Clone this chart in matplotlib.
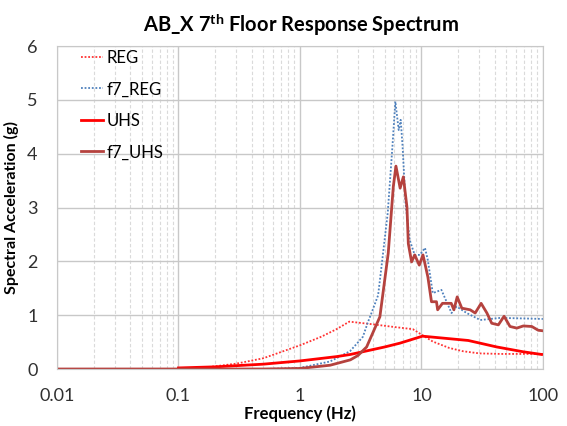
import numpy as np
import matplotlib.pyplot as plt
from matplotlib.ticker import LogLocator, NullFormatter, FixedLocator

plt.rcParams['font.family'] = ['Lato', 'DejaVu Sans']
plt.rcParams['mathtext.fontset'] = 'custom'
plt.rcParams['mathtext.rm'] = 'Lato'
plt.rcParams['mathtext.bf'] = 'Lato:bold'

# REG (espectro regulatorio)
reg_f = [0.01, 0.1, 0.15, 0.2, 0.3, 0.5, 1.0, 1.5, 2.0, 2.55, 4.0, 6.0, 8.5, 10.0, 12.4, 17.0, 22.0, 30.0, 45.0, 100.0]
reg_a = [0.0, 0.0, 0.02, 0.05, 0.1, 0.2, 0.44, 0.6, 0.74, 0.88, 0.83, 0.78, 0.74, 0.64, 0.51, 0.39, 0.33, 0.29, 0.28, 0.28]

# UHS
uhs_f = [0.1, 0.2, 0.5, 1.0, 2.0, 2.6, 5.0, 6.65, 10.2, 24.3, 41.6, 68.8, 97.5]
uhs_a = [0.02, 0.04, 0.09, 0.15, 0.23, 0.27, 0.41, 0.48, 0.61, 0.53, 0.41, 0.32, 0.27]

# f7_REG
f7reg_f = [0.01, 0.5, 1.0, 1.77, 2.58, 3.02, 3.3, 3.6, 3.88, 4.4, 4.69, 5.28, 5.77, 6.1, 6.5, 6.75, 7.0,
           7.4, 8.0, 8.8, 9.7, 10.7, 11.3, 12.4, 14.6, 17.7, 19.5, 23.6, 30.5, 44.7, 100.0]
f7reg_a = [0.0, 0.0, 0.02, 0.14, 0.33, 0.5, 0.6, 0.85, 1.04, 1.37, 1.9, 2.9, 4.13, 4.97, 4.44, 4.63, 4.13,
           3.08, 2.4, 2.12, 2.12, 2.25, 2.02, 1.41, 1.47, 1.04, 1.16, 1.04, 0.91, 0.95, 0.93]

# f7_UHS
f7uhs_f = [0.01, 0.5, 1.0, 1.77, 2.6, 3.0, 3.54, 4.55, 5.33, 5.87, 6.17, 6.68, 7.1, 7.6, 7.8, 8.3, 8.8,
           9.6, 10.3, 11.3, 12.1, 13.3, 13.6, 14.9, 17.6, 18.5, 19.7, 21.5, 25.2, 27.7, 31.0, 34.6,
           37.9, 43.0, 47.9, 53.6, 61.0, 69.0, 81.0, 91.5, 100.0]
f7uhs_a = [0.0, 0.0, 0.01, 0.07, 0.17, 0.25, 0.41, 0.97, 2.15, 3.39, 3.77, 3.36, 3.57, 3.01, 2.33, 1.99, 2.12,
           1.93, 2.12, 1.71, 1.25, 1.25, 1.1, 1.22, 1.22, 1.1, 1.34, 1.13, 1.1, 1.04, 1.22, 1.04,
           0.85, 0.82, 0.98, 0.79, 0.76, 0.8, 0.79, 0.72, 0.71]

fig = plt.figure(figsize=(5.67, 4.26), dpi=100)
ax = fig.add_axes([0.1005, 0.1338, 0.857, 0.758])

ax.plot(reg_f, reg_a, color='#FF3333', linestyle=(0, (1, 1)), lw=1.3, label='REG')
ax.plot(f7reg_f, f7reg_a, color='#4F81BD', linestyle=(0, (1, 1)), lw=1.3, label='f7_REG')
ax.plot(uhs_f, uhs_a, color='#FF0000', lw=2, label='UHS')
ax.plot(f7uhs_f, f7uhs_a, color='#B5423E', lw=2, label='f7_UHS')

ax.set_xscale('log')
ax.set_xlim(0.01, 100)
ax.set_ylim(0, 6)
ax.xaxis.set_major_locator(FixedLocator([0.01, 0.1, 1, 10, 100]))
ax.set_xticklabels(['0.01', '0.1', '1', '10', '100'])
ax.xaxis.set_minor_locator(LogLocator(base=10, subs=np.arange(2, 10)))
ax.xaxis.set_minor_formatter(NullFormatter())
ax.set_yticks(range(0, 7))

ax.grid(True, which='major', color='#C8C8C8', lw=1)
ax.grid(True, which='minor', axis='x', color='#DADADA', lw=0.8, linestyle=(0, (3, 2)))
ax.set_axisbelow(True)
ax.tick_params(which='both', length=0, labelsize=13, colors='#303030')
ax.tick_params(axis='x', pad=14)
ax.tick_params(axis='y', pad=14)
for s in ax.spines.values():
    s.set_color('#C8C8C8')

ax.set_xlabel('Frequency (Hz)', fontsize=12, fontweight='bold', labelpad=1)
ax.set_ylabel('Spectral Acceleration (g)', fontsize=11.5, fontweight='bold', labelpad=6)
fig.suptitle(r'AB_X 7$^{\mathbf{th}}$ Floor Response Spectrum', fontsize=14.5, fontweight='bold',
             x=0.53, y=0.975)

ax.legend(loc='upper left', frameon=False, fontsize=12, handlelength=1.35, labelspacing=0.93,
          handletextpad=0.2, borderpad=0, borderaxespad=0, bbox_to_anchor=(0.049, 0.9885))

fig.savefig('out.png', dpi=100)
